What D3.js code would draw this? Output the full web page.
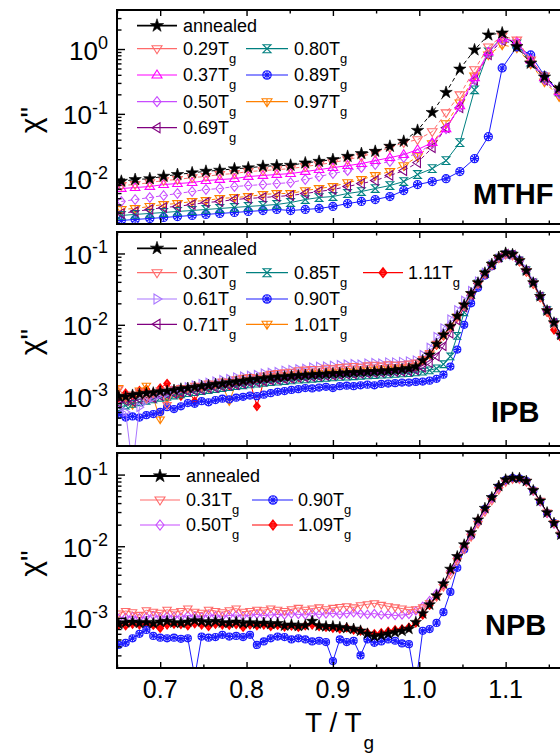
<!DOCTYPE html>
<html>
<head>
<meta charset="utf-8">
<script src="https://cdn.jsdelivr.net/npm/d3@7"></script>
<style>
body { margin: 0; background: #fff; }
svg { font-family: "Liberation Sans", Arial, sans-serif; }
</style>
</head>
<body>
<script>
// T/Tg grid and chi'' values
var mthfT = [0.655, 0.671, 0.688, 0.704, 0.720, 0.737, 0.753, 0.769, 0.786, 0.802,
	0.819, 0.835, 0.851, 0.868, 0.884, 0.900, 0.917, 0.933, 0.949, 0.966,
	0.982, 0.998, 1.015, 1.031, 1.047, 1.064, 1.080, 1.096, 1.113, 1.129,
	1.145, 1.162, 1.178, 1.194, 1.211];
var mthfAnnealed = [0.00912, 0.0097, 0.0100, 0.0109, 0.0116, 0.0123, 0.0130, 0.0135, 0.0142, 0.0147,
	0.0155, 0.0159, 0.0161, 0.0175, 0.0185, 0.0197, 0.0221, 0.0244, 0.0264, 0.0316,
	0.0377, 0.0556, 0.105, 0.214, 0.49, 0.97, 1.65, 1.77, 1.09, 0.605,
	0.369, 0.249, 0.165, 0.116, 0.084];
var mthf029 = [0.00784, 0.00812, 0.00871, 0.00935, 0.0097, 0.0104, 0.0108, 0.0116, 0.0120, 0.0129,
	0.0133, 0.0138, 0.0143, 0.0154, 0.0165, 0.0177, 0.0197, 0.0219, 0.0252, 0.0301,
	0.0360, 0.040, 0.0531, 0.104, 0.197, 0.48, 1.08, 1.59, 1.38, 0.68,
	0.386, 0.235, 0.159, 0.112, 0.081];
var mthf037 = [0.00705, 0.0073, 0.00757, 0.00812, 0.00841, 0.00871, 0.00935, 0.0097, 0.0100, 0.0108,
	0.0112, 0.0116, 0.0120, 0.0129, 0.0138, 0.0148, 0.0159, 0.0171, 0.0190, 0.0211,
	0.0235, 0.0281, 0.0360, 0.059, 0.133, 0.36, 0.90, 1.48, 1.29, 0.68,
	0.36, 0.219, 0.148, 0.104, 0.0757];
var mthf050 = [0.00445, 0.00477, 0.00512, 0.0055, 0.00591, 0.00634, 0.00681, 0.00705, 0.00757, 0.00784,
	0.00812, 0.00841, 0.00871, 0.0097, 0.0108, 0.0120, 0.0133, 0.0148, 0.0165, 0.0184,
	0.0211, 0.0244, 0.0347, 0.059, 0.129, 0.335, 0.87, 1.38, 1.20, 0.63,
	0.335, 0.204, 0.138, 0.097, 0.0705];
var mthf069 = [0.00291, 0.00312, 0.00335, 0.0036, 0.00373, 0.004, 0.00429, 0.00445, 0.00477, 0.00495,
	0.00512, 0.00531, 0.0055, 0.00591, 0.00634, 0.00681, 0.00757, 0.00841, 0.00935, 0.0112,
	0.0133, 0.0177, 0.0301, 0.0612, 0.124, 0.33, 0.82, 1.35, 1.18, 0.62,
	0.33, 0.2, 0.136, 0.096, 0.07];
var mthf080 = [0.00271, 0.00281, 0.00291, 0.00301, 0.00312, 0.00323, 0.00335, 0.00347, 0.0036, 0.00373,
	0.00386, 0.004, 0.00429, 0.00477, 0.00512, 0.00531, 0.00591, 0.00634, 0.00705, 0.00784,
	0.00903, 0.0116, 0.0143, 0.0190, 0.036, 0.235, 0.90, 1.54, 1.20, 0.63,
	0.36, 0.219, 0.148, 0.104, 0.0757];
var mthf089 = [0.00227, 0.00235, 0.00243, 0.00252, 0.00261, 0.00271, 0.00281, 0.00291, 0.00301, 0.00312,
	0.00323, 0.00335, 0.00323, 0.00335, 0.00347, 0.00373, 0.00414, 0.00445, 0.00477, 0.00531,
	0.00656, 0.00812, 0.00903, 0.0100, 0.0129, 0.0204, 0.0445, 0.51, 1.08, 0.81,
	0.386, 0.219, 0.143, 0.1005, 0.0731];
var mthf097 = [0.00335, 0.00347, 0.00373, 0.004, 0.00414, 0.00445, 0.00461, 0.00495, 0.00512, 0.00531,
	0.0057, 0.00591, 0.00591, 0.00656, 0.00705, 0.00757, 0.00871, 0.0097, 0.0112, 0.0129,
	0.0159, 0.0219, 0.0347, 0.0705, 0.148, 0.386, 0.81, 1.16, 1.04, 0.59,
	0.312, 0.184, 0.124, 0.087, 0.0634];

var ipbT = [0.652, 0.660, 0.668, 0.676, 0.684, 0.692, 0.700, 0.708, 0.716, 0.724,
	0.732, 0.740, 0.748, 0.756, 0.764, 0.772, 0.780, 0.788, 0.796, 0.804,
	0.812, 0.820, 0.828, 0.836, 0.844, 0.852, 0.860, 0.868, 0.876, 0.884,
	0.892, 0.900, 0.908, 0.916, 0.924, 0.932, 0.940, 0.948, 0.956, 0.964,
	0.972, 0.980, 0.988, 0.996, 1.004, 1.012, 1.020, 1.028, 1.036, 1.044,
	1.052, 1.060, 1.068, 1.076, 1.084, 1.092, 1.100, 1.108, 1.116, 1.124,
	1.132, 1.140, 1.148, 1.156, 1.164, 1.172, 1.180, 1.188, 1.196];
var ipbAnnealed = [1.00e-3, 0.98e-3, 1.04e-3, 1.07e-3, 1.10e-3, 1.12e-3, 1.16e-3, 1.18e-3, 1.22e-3, 1.27e-3,
	1.30e-3, 1.34e-3, 1.38e-3, 1.42e-3, 1.47e-3, 1.50e-3, 1.55e-3, 1.60e-3, 1.64e-3, 1.70e-3,
	1.74e-3, 1.78e-3, 1.82e-3, 1.86e-3, 1.88e-3, 1.92e-3, 1.95e-3, 1.98e-3, 2.00e-3, 2.03e-3,
	2.05e-3, 2.08e-3, 2.10e-3, 2.12e-3, 2.15e-3, 2.18e-3, 2.20e-3, 2.22e-3, 2.25e-3, 2.28e-3,
	2.32e-3, 2.38e-3, 2.45e-3, 2.60e-3, 3.16e-3, 3.80e-3, 5.37e-3, 7.24e-3, 9.55e-3, 1.32e-2,
	1.91e-2, 2.75e-2, 3.89e-2, 5.37e-2, 7.08e-2, 8.91e-2, 0.102, 9.77e-2, 7.94e-2, 5.75e-2,
	3.89e-2, 2.51e-2, 1.58e-2, 1.07e-2, 7.24e-3, 5.25e-3, 3.98e-3, 3.16e-3, 2.63e-3];
var ipb030 = [1.25e-3, 0.95e-3, 1.05e-3, 1.15e-3, 0.92e-3, 1.10e-3, 1.20e-3, 0.75e-3, 1.25e-3, 1.30e-3,
	1.28e-3, 1.40e-3, 1.35e-3, 1.50e-3, 1.45e-3, 1.60e-3, 1.58e-3, 1.72e-3, 1.80e-3, 1.85e-3,
	1.80e-3, 1.95e-3, 2.05e-3, 2.10e-3, 2.15e-3, 2.20e-3, 2.30e-3, 2.35e-3, 2.40e-3, 2.38e-3,
	2.50e-3, 2.45e-3, 2.55e-3, 2.60e-3, 2.65e-3, 2.58e-3, 2.70e-3, 2.75e-3, 2.68e-3, 2.80e-3,
	2.75e-3, 2.78e-3, 2.85e-3, 2.95e-3, 3.3e-3, 4.0e-3, 5.4e-3, 7.0e-3, 9.2e-3, 1.27e-2,
	1.82e-2, 2.63e-2, 3.7e-2, 5.1e-2, 6.8e-2, 8.5e-2, 9.6e-2, 9.3e-2, 7.8e-2, 5.6e-2,
	3.8e-2, 2.45e-2, 1.55e-2, 1.0e-2, 7.1e-3, 5.2e-3, 3.95e-3, 3.15e-3, 2.6e-3];
var ipb061 = [0.65e-3, 0.60e-3, 0.10e-3, 0.70e-3, 0.85e-3, 0.95e-3, 1.05e-3, 1.10e-3, 1.20e-3, 1.25e-3,
	1.35e-3, 1.42e-3, 1.50e-3, 1.55e-3, 1.62e-3, 1.70e-3, 1.75e-3, 1.85e-3, 1.90e-3, 1.95e-3,
	2.00e-3, 2.10e-3, 2.15e-3, 2.20e-3, 2.30e-3, 2.35e-3, 2.40e-3, 2.45e-3, 2.55e-3, 2.60e-3,
	2.62e-3, 2.70e-3, 2.75e-3, 2.80e-3, 2.85e-3, 2.80e-3, 2.90e-3, 2.95e-3, 2.90e-3, 3.00e-3,
	3.00e-3, 3.05e-3, 3.10e-3, 3.20e-3, 3.8e-3, 4.8e-3, 6.8e-3, 9.0e-3, 1.2e-2, 1.62e-2,
	2.2e-2, 3.0e-2, 4.1e-2, 5.4e-2, 7.0e-2, 8.6e-2, 9.5e-2, 9.4e-2, 8.0e-2, 6.0e-2,
	4.1e-2, 2.6e-2, 1.62e-2, 1.08e-2, 7.3e-3, 5.3e-3, 4.0e-3, 3.2e-3, 2.65e-3];
var ipb071 = [0.80e-3, 0.85e-3, 0.83e-3, 0.90e-3, 0.95e-3, 0.93e-3, 1.00e-3, 1.05e-3, 1.08e-3, 1.12e-3,
	1.15e-3, 1.18e-3, 1.22e-3, 1.28e-3, 1.30e-3, 1.35e-3, 1.40e-3, 1.42e-3, 1.48e-3, 1.52e-3,
	1.55e-3, 1.60e-3, 1.65e-3, 1.68e-3, 1.72e-3, 1.75e-3, 1.80e-3, 1.82e-3, 1.85e-3, 1.88e-3,
	1.92e-3, 1.95e-3, 1.98e-3, 2.00e-3, 2.02e-3, 2.05e-3, 2.08e-3, 2.10e-3, 2.12e-3, 2.15e-3,
	2.18e-3, 2.20e-3, 2.22e-3, 2.30e-3, 2.5e-3, 2.9e-3, 3.6e-3, 5.0e-3, 7.5e-3, 1.15e-2,
	1.75e-2, 2.6e-2, 3.8e-2, 5.2e-2, 6.9e-2, 8.7e-2, 9.9e-2, 9.6e-2, 7.8e-2, 5.7e-2,
	3.85e-2, 2.5e-2, 1.58e-2, 1.07e-2, 7.2e-3, 5.2e-3, 4.0e-3, 3.15e-3, 2.6e-3];
var ipb085 = [0.70e-3, 0.74e-3, 0.78e-3, 0.82e-3, 0.86e-3, 0.90e-3, 0.95e-3, 0.98e-3, 1.02e-3, 1.06e-3,
	1.10e-3, 1.14e-3, 1.18e-3, 1.22e-3, 1.26e-3, 1.30e-3, 1.34e-3, 1.38e-3, 1.42e-3, 1.46e-3,
	1.50e-3, 1.54e-3, 1.57e-3, 1.60e-3, 1.63e-3, 1.66e-3, 1.70e-3, 1.72e-3, 1.75e-3, 1.78e-3,
	1.80e-3, 1.83e-3, 1.86e-3, 1.88e-3, 1.90e-3, 1.93e-3, 1.95e-3, 1.98e-3, 2.00e-3, 2.02e-3,
	2.05e-3, 2.08e-3, 2.10e-3, 2.15e-3, 2.2e-3, 2.3e-3, 2.45e-3, 2.8e-3, 3.6e-3, 7.0e-3,
	1.5e-2, 2.6e-2, 3.8e-2, 5.2e-2, 6.9e-2, 8.6e-2, 9.7e-2, 9.5e-2, 7.9e-2, 5.8e-2,
	3.9e-2, 2.52e-2, 1.6e-2, 1.08e-2, 7.3e-3, 5.3e-3, 4.0e-3, 3.2e-3, 2.65e-3];
var ipb090 = [0.55e-3, 0.50e-3, 0.52e-3, 0.50e-3, 0.54e-3, 0.56e-3, 0.60e-3, 0.70e-3, 0.66e-3, 0.72e-3,
	0.80e-3, 0.78e-3, 0.85e-3, 0.82e-3, 0.88e-3, 0.92e-3, 0.90e-3, 0.95e-3, 0.98e-3, 1.02e-3,
	1.00e-3, 1.05e-3, 1.10e-3, 1.15e-3, 1.18e-3, 1.22e-3, 1.25e-3, 1.30e-3, 1.28e-3, 1.32e-3,
	1.35e-3, 1.30e-3, 1.38e-3, 1.40e-3, 1.38e-3, 1.42e-3, 1.45e-3, 1.42e-3, 1.48e-3, 1.50e-3,
	1.52e-3, 1.55e-3, 1.55e-3, 1.58e-3, 1.6e-3, 1.65e-3, 1.75e-3, 2.0e-3, 2.6e-3, 4.5e-3,
	1.0e-2, 2.0e-2, 3.3e-2, 4.9e-2, 6.6e-2, 8.5e-2, 9.8e-2, 9.7e-2, 8.0e-2, 5.8e-2,
	3.9e-2, 2.5e-2, 1.6e-2, 1.08e-2, 7.4e-3, 5.4e-3, 4.1e-3, 3.2e-3, 2.7e-3];
var ipb101 = [1.30e-3, 0.90e-3, 0.75e-3, 1.20e-3, 1.40e-3, 0.95e-3, 0.47e-3, 0.95e-3, 1.10e-3, 1.15e-3,
	1.25e-3, 1.30e-3, 1.35e-3, 1.30e-3, 1.45e-3, 1.40e-3, 0.85e-3, 1.50e-3, 1.60e-3, 1.65e-3,
	1.70e-3, 1.75e-3, 1.80e-3, 1.85e-3, 1.90e-3, 1.95e-3, 2.00e-3, 2.00e-3, 2.05e-3, 2.10e-3,
	2.10e-3, 2.15e-3, 2.20e-3, 2.25e-3, 2.20e-3, 2.30e-3, 2.30e-3, 2.35e-3, 2.40e-3, 2.40e-3,
	2.45e-3, 2.50e-3, 2.55e-3, 2.65e-3, 3.2e-3, 3.9e-3, 5.3e-3, 7.1e-3, 9.4e-3, 1.3e-2,
	1.88e-2, 2.7e-2, 3.85e-2, 5.3e-2, 7.0e-2, 8.8e-2, 0.100, 9.6e-2, 7.8e-2, 5.6e-2,
	3.8e-2, 2.45e-2, 1.55e-2, 1.04e-2, 7.0e-3, 5.1e-3, 3.9e-3, 3.1e-3, 2.55e-3];
var ipb111 = [0.95e-3, 1.10e-3, 1.00e-3, 1.20e-3, 1.25e-3, 1.10e-3, 1.30e-3, 1.50e-3, 1.20e-3, 1.00e-3,
	1.25e-3, 0.85e-3, 1.30e-3, 1.35e-3, 1.40e-3, 1.45e-3, 1.40e-3, 1.50e-3, 1.55e-3, 1.60e-3,
	0.72e-3, 1.65e-3, 1.70e-3, 1.75e-3, 1.80e-3, 1.80e-3, 1.85e-3, 1.90e-3, 1.95e-3, 1.95e-3,
	2.00e-3, 2.00e-3, 2.05e-3, 2.10e-3, 2.10e-3, 2.15e-3, 2.20e-3, 2.20e-3, 2.25e-3, 2.30e-3,
	2.35e-3, 2.40e-3, 2.45e-3, 2.55e-3, 3.1e-3, 3.8e-3, 5.2e-3, 7.0e-3, 9.3e-3, 1.28e-2,
	1.85e-2, 2.68e-2, 3.8e-2, 5.2e-2, 6.9e-2, 8.7e-2, 9.9e-2, 9.5e-2, 7.7e-2, 5.5e-2,
	3.7e-2, 2.4e-2, 1.5e-2, 8.5e-3, 6.6e-3, 5.0e-3, 3.8e-3, 3.0e-3, 2.5e-3];

var npbT = ipbT;
var npbAnnealed = [0.82e-3, 0.86e-3, 0.88e-3, 0.85e-3, 0.87e-3, 0.84e-3, 0.88e-3, 0.90e-3, 0.86e-3, 0.85e-3,
	0.88e-3, 0.92e-3, 0.89e-3, 0.87e-3, 0.90e-3, 0.86e-3, 0.85e-3, 0.88e-3, 0.84e-3, 0.86e-3,
	0.83e-3, 0.85e-3, 0.82e-3, 0.84e-3, 0.78e-3, 0.80e-3, 0.77e-3, 0.79e-3, 0.90e-3, 0.78e-3,
	0.76e-3, 0.76e-3, 0.74e-3, 0.72e-3, 0.70e-3, 0.66e-3, 0.60e-3, 0.55e-3, 0.57e-3, 0.60e-3,
	0.63e-3, 0.66e-3, 0.70e-3, 0.87e-3, 1.15e-3, 1.53e-3, 2.04e-3, 3.0e-3, 4.8e-3, 7.2e-3,
	1.05e-2, 1.55e-2, 2.34e-2, 3.39e-2, 4.8e-2, 6.9e-2, 8.5e-2, 9.0e-2, 8.9e-2, 8.1e-2,
	6.0e-2, 4.3e-2, 2.95e-2, 2.1e-2, 1.45e-2, 1.02e-2, 7.4e-3, 5.5e-3, 4.2e-3];
var npb031 = [1.15e-3, 1.25e-3, 1.20e-3, 1.10e-3, 1.28e-3, 1.22e-3, 1.18e-3, 1.30e-3, 1.20e-3, 1.25e-3,
	1.35e-3, 1.22e-3, 1.18e-3, 1.30e-3, 1.25e-3, 1.20e-3, 1.28e-3, 1.35e-3, 1.22e-3, 1.25e-3,
	1.30e-3, 1.28e-3, 1.35e-3, 1.30e-3, 1.25e-3, 1.32e-3, 1.38e-3, 1.30e-3, 1.35e-3, 1.40e-3,
	1.32e-3, 1.38e-3, 1.42e-3, 1.45e-3, 1.40e-3, 1.50e-3, 1.55e-3, 1.60e-3, 1.52e-3, 1.45e-3,
	1.40e-3, 1.35e-3, 1.30e-3, 1.32e-3, 1.40e-3, 1.60e-3, 1.95e-3, 2.7e-3, 4.0e-3, 6.2e-3,
	9.0e-3, 1.35e-2, 2.05e-2, 3.0e-2, 4.3e-2, 6.1e-2, 7.8e-2, 8.6e-2, 8.6e-2, 7.9e-2,
	6.0e-2, 4.3e-2, 2.95e-2, 2.1e-2, 1.45e-2, 1.02e-2, 7.4e-3, 5.5e-3, 4.2e-3];
var npb050 = [0.98e-3, 1.02e-3, 1.05e-3, 1.00e-3, 1.04e-3, 1.08e-3, 1.02e-3, 1.06e-3, 1.05e-3, 1.03e-3,
	1.08e-3, 1.06e-3, 1.04e-3, 1.10e-3, 1.07e-3, 1.05e-3, 1.08e-3, 1.10e-3, 1.06e-3, 1.09e-3,
	1.12e-3, 1.08e-3, 1.10e-3, 1.12e-3, 1.10e-3, 1.14e-3, 1.12e-3, 1.10e-3, 1.15e-3, 1.12e-3,
	1.14e-3, 1.16e-3, 1.12e-3, 1.15e-3, 1.18e-3, 1.14e-3, 1.12e-3, 1.15e-3, 1.10e-3, 1.12e-3,
	1.08e-3, 1.10e-3, 1.12e-3, 1.25e-3, 1.45e-3, 1.75e-3, 2.2e-3, 3.0e-3, 4.5e-3, 6.8e-3,
	1.0e-2, 1.48e-2, 2.2e-2, 3.2e-2, 4.6e-2, 6.5e-2, 8.1e-2, 8.8e-2, 8.7e-2, 8.0e-2,
	5.9e-2, 4.25e-2, 2.9e-2, 2.05e-2, 1.42e-2, 1.0e-2, 7.3e-3, 5.4e-3, 4.1e-3];
var npb090 = [0.42e-3, 0.45e-3, 0.52e-3, 0.60e-3, 0.68e-3, 0.56e-3, 0.53e-3, 0.52e-3, 0.53e-3, 0.51e-3,
	0.52e-3, 0.15e-3, 0.55e-3, 0.53e-3, 0.54e-3, 0.58e-3, 0.55e-3, 0.56e-3, 0.54e-3, 0.58e-3,
	0.42e-3, 0.47e-3, 0.52e-3, 0.55e-3, 0.54e-3, 0.50e-3, 0.52e-3, 0.50e-3, 0.47e-3, 0.48e-3,
	0.46e-3, 0.25e-3, 0.50e-3, 0.46e-3, 0.48e-3, 0.30e-3, 0.50e-3, 0.45e-3, 0.47e-3, 0.50e-3,
	0.48e-3, 0.44e-3, 0.43e-3, 0.12e-3, 0.66e-3, 0.70e-3, 0.85e-3, 1.2e-3, 2.3e-3, 5.0e-3,
	9.0e-3, 1.4e-2, 2.2e-2, 3.3e-2, 4.7e-2, 6.7e-2, 8.4e-2, 8.9e-2, 8.8e-2, 8.1e-2,
	6.0e-2, 4.2e-2, 2.9e-2, 2.1e-2, 1.45e-2, 1.03e-2, 7.5e-3, 5.6e-3, 4.2e-3];
var npb109 = [0.80e-3, 0.78e-3, 0.82e-3, 0.80e-3, 0.84e-3, 0.79e-3, 0.72e-3, 0.80e-3, 0.82e-3, 0.81e-3,
	0.78e-3, 0.83e-3, 0.80e-3, 0.76e-3, 0.82e-3, 0.80e-3, 0.79e-3, 0.81e-3, 0.74e-3, 0.80e-3,
	0.78e-3, 0.80e-3, 0.76e-3, 0.79e-3, 0.75e-3, 0.77e-3, 0.74e-3, 0.78e-3, 0.80e-3, 0.76e-3,
	0.74e-3, 0.72e-3, 0.70e-3, 0.73e-3, 0.68e-3, 0.66e-3, 0.62e-3, 0.60e-3, 0.62e-3, 0.65e-3,
	0.68e-3, 0.70e-3, 0.74e-3, 0.85e-3, 1.1e-3, 1.5e-3, 2.0e-3, 2.9e-3, 4.6e-3, 7.0e-3,
	1.02e-2, 1.5e-2, 2.3e-2, 3.3e-2, 4.7e-2, 6.8e-2, 8.4e-2, 8.9e-2, 8.8e-2, 8.0e-2,
	5.9e-2, 4.2e-2, 2.9e-2, 2.08e-2, 1.44e-2, 1.01e-2, 7.3e-3, 5.5e-3, 4.1e-3];

var mthfLabels = ["annealed", "0.29", "0.37", "0.50", "0.69", "0.80", "0.89", "0.97"];
var ipbLabels = ["annealed", "0.30", "0.61", "0.71", "0.85", "0.90", "1.01", "1.11"];
var npbLabels = ["annealed", "0.31", "0.50", "0.90", "1.09"];
var xTicks = [0.7, 0.8, 0.9, 1.0, 1.1, 1.2];
var xTickLabels = [0.7, 0.8, 0.9, 1.0, 1.1];
var xMinorTicks = [0.65, 0.75, 0.85, 0.95, 1.05, 1.15];
var mthfExps = [0, -1, -2];
var ipbExps = [-1, -2, -3];
var npbExps = [-1, -2, -3];
var panelNames = ["MTHF", "IPB", "NPB"];

var font = "'Liberation Sans', Arial, sans-serif";
var svgContainer = d3.select("body").append("svg").attr("width", 560).attr("height", 756);
var x = d3.scaleLinear().domain([0.65, 1.2]).range([117, 592]);

// legend columns: line start, line end, marker, text
var colA = [137, 177, 157, 183], colB = [246, 288, 267, 294], colC = [363, 403, 383, 408];
var colA3 = [140, 180, 160, 186], colB3 = [252, 293, 273, 298];

var panels = [
	{ name: panelNames[0], top: 10, bottom: 224, dom: [0.002, 4], exps: mthfExps, T: mthfT, r: 4.8, rs: 6.5, nx: 473, ny: 204,
	  series: [
		{ v: mthfAnnealed, lab: mthfLabels[0], c: "#000", m: "star", dash: "4,3", col: colA, ly: 25.7 },
		{ v: mthf029, lab: mthfLabels[1], c: "#ff6a6a", m: "down", dash: "4,3", col: colA, ly: 48.7 },
		{ v: mthf037, lab: mthfLabels[2], c: "#ff00ff", m: "up", dash: null, col: colA, ly: 75 },
		{ v: mthf050, lab: mthfLabels[3], c: "#c84cff", m: "diamond", dash: "4,3", col: colA, ly: 101.7 },
		{ v: mthf069, lab: mthfLabels[4], c: "#800080", m: "left", dash: "4,3", col: colA, ly: 127.7 },
		{ v: mthf080, lab: mthfLabels[5], c: "#008080", m: "hour", dash: null, col: colB, ly: 48.7 },
		{ v: mthf089, lab: mthfLabels[6], c: "#1a1aff", m: "circx", dash: null, col: colB, ly: 75 },
		{ v: mthf097, lab: mthfLabels[7], c: "#ff8000", m: "downbar", dash: "4,3", col: colB, ly: 101.7 }
	  ] },
	{ name: panelNames[1], top: 232, bottom: 446, dom: [2e-4, 0.2], exps: ipbExps, T: ipbT, r: 4.2, rs: 6, nx: 491, ny: 422,
	  series: [
		{ v: ipbAnnealed, lab: ipbLabels[0], c: "#000", m: "star", dash: null, col: colA, ly: 248.3 },
		{ v: ipb030, lab: ipbLabels[1], c: "#ff6a6a", m: "down", dash: null, col: colA, ly: 272.7 },
		{ v: ipb061, lab: ipbLabels[2], c: "#aa77ff", m: "right", dash: null, col: colA, ly: 299 },
		{ v: ipb071, lab: ipbLabels[3], c: "#800080", m: "left", dash: null, col: colA, ly: 324.3 },
		{ v: ipb085, lab: ipbLabels[4], c: "#008080", m: "hour", dash: null, col: colB, ly: 272.7 },
		{ v: ipb090, lab: ipbLabels[5], c: "#1a1aff", m: "circx", dash: null, col: colB, ly: 299 },
		{ v: ipb101, lab: ipbLabels[6], c: "#ff8000", m: "downbar", dash: null, col: colB, ly: 324.3 },
		{ v: ipb111, lab: ipbLabels[7], c: "#ff0000", m: "diaplus", dash: null, col: colC, ly: 272.7 }
	  ] },
	{ name: panelNames[2], top: 453, bottom: 668, dom: [2e-4, 0.2], exps: npbExps, T: npbT, r: 4.2, rs: 6, nx: 485, ny: 635,
	  series: [
		{ v: npbAnnealed, lab: npbLabels[0], c: "#000", m: "star", dash: null, col: colA3, ly: 476 },
		{ v: npb031, lab: npbLabels[1], c: "#ff6a6a", m: "down", dash: null, col: colA3, ly: 500 },
		{ v: npb050, lab: npbLabels[2], c: "#c84cff", m: "diamond", dash: null, col: colA3, ly: 525 },
		{ v: npb090, lab: npbLabels[3], c: "#1a1aff", m: "circx", dash: null, col: colB3, ly: 500 },
		{ v: npb109, lab: npbLabels[4], c: "#ff0000", m: "diaplus", dash: null, col: colB3, ly: 525 }
	  ] }
];

function markerPath(kind, r) {
	if (kind == "star") return d3.symbol().type(d3.symbolStar).size(r * r / 0.8908)();
	var p = d3.path();
	if (kind == "down" || kind == "downbar") {
		p.moveTo(-r, -0.6 * r); p.lineTo(r, -0.6 * r); p.lineTo(0, r); p.closePath();
		if (kind == "downbar") { p.moveTo(0, -0.6 * r); p.lineTo(0, r); }
	} else if (kind == "up") {
		p.moveTo(-r, 0.6 * r); p.lineTo(r, 0.6 * r); p.lineTo(0, -r); p.closePath();
	} else if (kind == "left") {
		p.moveTo(-r, 0); p.lineTo(0.6 * r, -r); p.lineTo(0.6 * r, r); p.closePath();
	} else if (kind == "right") {
		p.moveTo(r, 0); p.lineTo(-0.6 * r, -r); p.lineTo(-0.6 * r, r); p.closePath();
	} else if (kind == "diamond" || kind == "diaplus") {
		p.moveTo(0, -r); p.lineTo(0.8 * r, 0); p.lineTo(0, r); p.lineTo(-0.8 * r, 0); p.closePath();
		if (kind == "diaplus") {
			p.moveTo(0.42 * r, 0); p.arc(0, 0, 0.42 * r, 0, 2 * Math.PI);
			p.moveTo(-0.8 * r, 0); p.lineTo(0.8 * r, 0); p.moveTo(0, -r); p.lineTo(0, r);
		}
	} else if (kind == "hour") {
		var h = 0.8 * r;
		p.moveTo(-h, -h); p.lineTo(h, -h); p.lineTo(-h, h); p.lineTo(h, h); p.closePath();
	} else if (kind == "circx") {
		var c = 0.85 * r, d = c * 0.707;
		p.moveTo(c, 0); p.arc(0, 0, c, 0, 2 * Math.PI);
		p.moveTo(-c, 0); p.lineTo(c, 0); p.moveTo(0, -c); p.lineTo(0, c);
		p.moveTo(-d, -d); p.lineTo(d, d); p.moveTo(-d, d); p.lineTo(d, -d);
	}
	return p.toString();
}

function drawMarker(g, s, px, py, r) {
	g.append("path").attr("d", markerPath(s.m, s.m == "star" ? r.rs : r.r))
		.attr("transform", "translate(" + px + "," + py + ")")
		.attr("fill", s.m == "star" ? "#000" : "none")
		.attr("stroke", s.c).attr("stroke-width", s.m == "star" ? 0.6 : 1.1);
}

function minorLogTicks(dom) {
	var out = [];
	for (var e = -5; e <= 1; e++)
		for (var m = 2; m <= 9; m++) {
			var v = m * Math.pow(10, e);
			if (v > dom[0] && v < dom[1]) out.push(v);
		}
	return out;
}

panels.forEach(function (p, pi) {
	var y = d3.scaleLog().domain(p.dom).range([p.bottom, p.top]);
	var clipId = "clip" + pi;
	svgContainer.append("clipPath").attr("id", clipId).append("rect")
		.attr("x", 117).attr("y", p.top).attr("width", 475).attr("height", p.bottom - p.top);

	var plot = svgContainer.append("g").attr("clip-path", "url(#" + clipId + ")");
	var line = d3.line().x(function (d) { return x(d[0]); }).y(function (d) { return y(d[1]); });

	for (var i = p.series.length - 1; i >= 0; i--) {
		var s = p.series[i];
		var pts = p.T.map(function (t, k) { return [t, s.v[k]]; });
		plot.append("path").attr("d", line(pts)).attr("fill", "none")
			.attr("stroke", s.c).attr("stroke-width", 1)
			.attr("stroke-dasharray", s.dash);
		var mg = plot.append("g");
		pts.forEach(function (d) { drawMarker(mg, s, x(d[0]), y(d[1]), p); });
	}

	// axes, ticks pointing inward on all four sides
	var majorY = p.exps.map(function (e) { return Math.pow(10, e); });
	var minorY = minorLogTicks(p.dom);
	var axes = [
		d3.axisBottom(x).tickValues(xTicks).tickSize(-6), d3.axisBottom(x).tickValues(xMinorTicks).tickSize(-3.5),
		d3.axisTop(x).tickValues(xTicks).tickSize(-6), d3.axisTop(x).tickValues(xMinorTicks).tickSize(-3.5),
		d3.axisLeft(y).tickValues(majorY).tickSize(-8), d3.axisLeft(y).tickValues(minorY).tickSize(-4.5),
		d3.axisRight(y).tickValues(majorY).tickSize(-8), d3.axisRight(y).tickValues(minorY).tickSize(-4.5)
	];
	var shifts = [[0, p.bottom], [0, p.bottom], [0, p.top], [0, p.top], [117, 0], [117, 0], [592, 0], [592, 0]];
	axes.forEach(function (a, ai) {
		var g = svgContainer.append("g")
			.attr("transform", "translate(" + shifts[ai][0] + "," + shifts[ai][1] + ")")
			.call(a.tickFormat("").tickSizeOuter(0));
		g.select(".domain").remove();
		g.selectAll("text").remove();
		g.selectAll("line").attr("stroke", "#000").attr("stroke-width", 1.4);
	});

	svgContainer.append("rect").attr("x", 117).attr("y", p.top)
		.attr("width", 475).attr("height", p.bottom - p.top)
		.attr("fill", "none").attr("stroke", "#000").attr("stroke-width", 2);

	p.exps.forEach(function (e) {
		var t = svgContainer.append("text").attr("x", 108).attr("y", y(Math.pow(10, e)) + 10.5)
			.attr("text-anchor", "end").attr("font-family", font).attr("fill", "#000");
		t.append("tspan").attr("font-size", 26).text("10");
		t.append("tspan").attr("font-size", 18).attr("dy", -10.5).text(String(e));
	});

	svgContainer.append("text")
		.attr("transform", "translate(41," + ((p.top + p.bottom) / 2 + 3) + ") rotate(-90)")
		.attr("text-anchor", "middle").attr("font-family", font).attr("font-size", 30)
		.text("\u03c7\"");

	svgContainer.append("text").attr("x", p.nx).attr("y", p.ny)
		.attr("font-family", font).attr("font-size", 29).attr("font-weight", "bold")
		.text(p.name);

	// legend
	p.series.forEach(function (s) {
		var c = s.col;
		svgContainer.append("line").attr("x1", c[0]).attr("x2", c[1]).attr("y1", s.ly).attr("y2", s.ly)
			.attr("stroke", s.c).attr("stroke-width", s.m == "star" ? 1.8 : 1.2);
		var lg = svgContainer.append("g");
		drawMarker(lg, s, c[2], s.ly, { r: 5, rs: 7 });
		var t = svgContainer.append("text").attr("x", c[3]).attr("y", s.ly + 6.4)
			.attr("font-family", font).attr("font-size", 18);
		if (s.lab == "annealed") t.text(s.lab);
		else {
			t.append("tspan").text(s.lab + "T");
			t.append("tspan").attr("font-size", 13).attr("dy", 8).text("g");
		}
	});

	if (pi == panels.length - 1) {
		xTickLabels.forEach(function (v) {
			svgContainer.append("text").attr("x", x(v)).attr("y", 698)
				.attr("text-anchor", "middle").attr("font-family", font).attr("font-size", 25)
				.text(d3.format(".1f")(v));
		});
		var xt = svgContainer.append("text").attr("x", 305).attr("y", 732)
			.attr("font-family", font).attr("font-size", 28);
		xt.append("tspan").text("T / T");
		xt.append("tspan").attr("font-size", 19).attr("dy", 17).attr("dx", 2).text("g");
	}
});
</script>
</body>
</html>
